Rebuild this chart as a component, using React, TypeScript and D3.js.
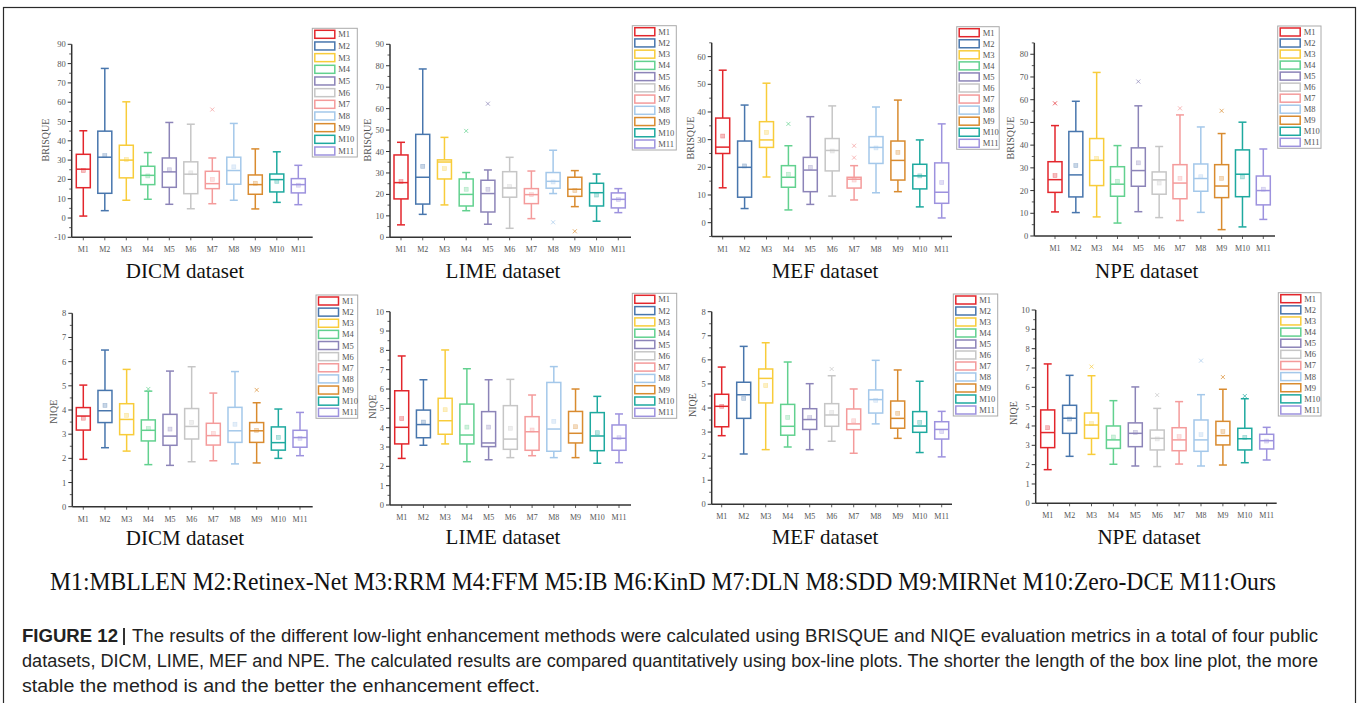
import React from "react";
import * as d3 from "d3";

const methods = ["M1", "M2", "M3", "M4", "M5", "M6", "M7", "M8", "M9", "M10", "M11"];
const methodColors = ["#e3262c", "#4876ad", "#f8cc3a", "#62d18f", "#8c84b8", "#c6c6c6", "#f49b9b", "#a4c8ea", "#d98b2f", "#1ea99f", "#9d92de"];

// each row: [lowWhisker, q1, median, q3, highWhisker, mean]
const dicmBrisque = [
  [1.0, 15.7, 25.3, 33.0, 45.2, 24.6],
  [3.8, 12.8, 31.5, 45.0, 77.5, 32.3],
  [9.2, 20.8, 30.0, 37.7, 60.2, 30.3],
  [9.7, 17.3, 22.1, 26.8, 33.9, 21.8],
  [7.1, 15.9, 23.9, 31.1, 49.5, 25.0],
  [4.8, 12.6, 22.7, 29.1, 48.6, 23.4],
  [7.4, 15.2, 17.8, 24.2, 31.1, 20.0],
  [9.2, 17.5, 24.6, 31.5, 49.0, 26.5],
  [4.7, 12.3, 17.3, 22.3, 35.8, 18.0],
  [8.1, 13.5, 19.9, 22.8, 34.3, 19.0],
  [6.9, 13.0, 17.3, 20.4, 27.3, 17.0],
];
const dicmBrisqueOutliers = [[6, 56.2]];

const limeBrisque = [
  [5.8, 17.9, 25.5, 38.4, 44.3, 26.0],
  [10.7, 15.5, 28.0, 48.0, 78.5, 33.1],
  [15.1, 27.2, 35.1, 36.1, 46.6, 32.0],
  [12.4, 14.6, 20.0, 27.2, 30.2, 22.4],
  [6.1, 11.8, 20.4, 26.6, 31.4, 22.4],
  [4.2, 18.7, 23.0, 30.6, 37.3, 23.6],
  [8.7, 15.7, 19.9, 22.7, 30.9, 19.9],
  [20.4, 22.9, 26.1, 30.2, 40.6, 25.8],
  [14.3, 19.1, 22.4, 28.0, 31.1, 21.8],
  [7.5, 14.6, 20.8, 25.2, 29.5, 19.7],
  [11.5, 13.7, 17.7, 20.7, 22.7, 17.6],
];
const limeBrisqueOutliers = [[3, 49.6], [4, 62.3], [7, 7.0], [8, 2.8]];

const mefBrisque = [
  [12.6, 25.0, 27.3, 37.8, 55.1, 31.3],
  [5.1, 9.2, 20.0, 29.5, 42.5, 20.5],
  [16.5, 27.2, 29.9, 36.5, 50.4, 32.6],
  [4.6, 12.8, 16.4, 20.6, 27.8, 17.5],
  [6.6, 11.2, 19.0, 23.6, 38.3, 20.0],
  [9.6, 18.7, 26.1, 30.4, 42.2, 25.9],
  [8.2, 12.5, 15.7, 16.4, 20.6, 15.4],
  [10.8, 21.4, 27.2, 31.1, 41.8, 27.0],
  [11.2, 15.4, 22.5, 29.5, 44.3, 25.4],
  [5.7, 12.2, 16.9, 21.1, 29.9, 16.9],
  [1.7, 7.0, 11.0, 21.6, 35.7, 14.5],
];
const mefBrisqueOutliers = [[3, 35.7], [6, 27.8], [6, 23.5]];

const npeBrisque = [
  [10.6, 19.2, 24.8, 32.7, 48.6, 26.6],
  [10.3, 17.2, 26.9, 46.0, 59.3, 31.0],
  [8.4, 22.2, 33.3, 42.9, 72.0, 34.1],
  [5.7, 17.5, 22.8, 30.5, 39.8, 24.1],
  [10.7, 21.9, 28.8, 38.8, 57.3, 32.2],
  [8.1, 18.4, 24.7, 28.2, 39.4, 23.3],
  [6.8, 16.4, 23.3, 31.4, 53.3, 25.4],
  [10.4, 19.7, 25.3, 31.7, 48.0, 26.1],
  [2.8, 16.9, 22.0, 31.4, 45.1, 25.4],
  [4.0, 17.3, 27.2, 37.9, 50.1, 26.0],
  [7.3, 13.7, 20.0, 26.4, 38.3, 20.6],
];
const npeBrisqueOutliers = [[0, 58.4], [4, 68.0], [6, 56.2], [8, 55.1]];

const dicmNiqe = [
  [1.96, 3.17, 3.75, 4.10, 5.03, 3.66],
  [2.44, 3.48, 3.97, 4.81, 6.48, 4.19],
  [2.30, 2.98, 3.61, 4.26, 5.68, 3.78],
  [1.74, 2.72, 3.16, 3.59, 4.78, 3.23],
  [1.71, 2.54, 2.92, 3.82, 5.61, 3.21],
  [1.86, 2.80, 3.32, 4.06, 5.79, 3.49],
  [1.90, 2.55, 2.94, 3.45, 4.70, 3.03],
  [1.77, 2.66, 3.14, 4.11, 5.59, 3.41],
  [1.81, 2.66, 3.14, 3.48, 4.30, 3.16],
  [2.00, 2.34, 2.65, 3.30, 4.04, 2.87],
  [2.11, 2.46, 2.86, 3.16, 3.90, 2.83],
];
const dicmNiqeOutliers = [[3, 4.87], [8, 4.83]];

const limeNiqe = [
  [2.41, 3.16, 4.02, 5.91, 7.71, 4.47],
  [3.09, 3.48, 4.16, 4.91, 6.48, 4.29],
  [3.16, 3.66, 4.36, 5.52, 8.02, 4.93],
  [2.24, 3.16, 3.62, 5.22, 7.05, 4.03],
  [2.34, 3.02, 3.21, 4.83, 6.48, 4.03],
  [2.45, 2.88, 3.41, 5.14, 6.50, 3.97],
  [2.55, 2.83, 3.79, 4.57, 5.69, 3.88],
  [2.45, 2.78, 3.93, 6.34, 7.16, 4.33],
  [2.45, 3.21, 3.71, 4.84, 6.00, 4.05],
  [2.16, 2.81, 3.57, 4.78, 5.62, 3.74],
  [2.19, 2.83, 3.45, 4.14, 4.71, 3.48],
];
const limeNiqeOutliers: number[][] = [];

const mefNiqe = [
  [2.85, 3.22, 4.07, 4.57, 5.70, 4.07],
  [2.09, 3.57, 4.55, 5.07, 6.56, 4.40],
  [2.27, 4.21, 5.23, 5.62, 6.71, 4.93],
  [2.38, 2.87, 3.24, 4.15, 5.91, 3.61],
  [2.27, 3.11, 3.52, 3.97, 5.01, 3.60],
  [2.62, 3.24, 3.71, 4.18, 5.34, 3.81],
  [2.12, 3.10, 3.34, 3.96, 4.79, 3.47],
  [3.34, 3.79, 4.35, 4.75, 5.98, 4.32],
  [2.74, 3.16, 3.57, 4.29, 5.58, 3.78],
  [2.15, 2.99, 3.25, 3.85, 5.11, 3.40],
  [1.97, 2.71, 3.11, 3.43, 3.86, 3.02],
];
const mefNiqeOutliers = [[5, 5.62]];

const npeNiqe = [
  [1.74, 2.88, 3.66, 4.83, 7.21, 3.91],
  [2.43, 3.62, 4.40, 5.07, 6.62, 4.36],
  [2.53, 3.36, 4.05, 4.67, 6.60, 4.12],
  [2.02, 2.84, 3.28, 4.00, 5.31, 3.43],
  [1.93, 2.93, 3.62, 4.16, 6.02, 3.67],
  [1.90, 2.76, 3.36, 3.79, 4.91, 3.33],
  [2.03, 2.72, 3.28, 3.91, 5.26, 3.45],
  [1.93, 2.69, 3.28, 4.31, 5.62, 3.55],
  [1.98, 3.02, 3.50, 4.24, 5.90, 3.71],
  [2.10, 2.76, 3.34, 3.88, 5.41, 3.41],
  [2.24, 2.81, 3.24, 3.57, 3.93, 3.22],
];
const npeNiqeOutliers = [[2, 7.07], [5, 5.6], [7, 7.38], [8, 6.53], [9, 5.55]];

const dicmBrisqueTicks = [-10, 0, 10, 20, 30, 40, 50, 60, 70, 80, 90];
const limeBrisqueTicks = [0, 10, 20, 30, 40, 50, 60, 70, 80, 90];
const mefBrisqueTicks = [0, 10, 20, 30, 40, 50, 60];
const npeBrisqueTicks = [0, 10, 20, 30, 40, 50, 60, 70, 80];
const niqe8Ticks = [0, 1, 2, 3, 4, 5, 6, 7, 8];
const niqe10Ticks = [0, 1, 2, 3, 4, 5, 6, 7, 8, 9, 10];

const methodNames = "M1:MBLLEN M2:Retinex-Net M3:RRM M4:FFM M5:IB M6:KinD M7:DLN M8:SDD M9:MIRNet M10:Zero-DCE M11:Ours";
const captionLine1 = "The results of the different low-light enhancement methods were calculated using BRISQUE and NIQE evaluation metrics in a total of four public";
const captionLine2 = "datasets, DICM, LIME, MEF and NPE. The calculated results are compared quantitatively using box-line plots. The shorter the length of the box line plot, the more";
const captionLine3 = "stable the method is and the better the enhancement effect.";

type PanelCfg = {
  title: string; ylabel: string; stats: number[][]; outliers: number[][];
  domain: [number, number]; ticks: number[]; minor: number;
  ax: number; axRight: number; yTop: number; yBottom: number; xFirst: number; xLast: number;
  titleX: number; titleY: number; ylabX: number; ylabY: number;
  lg: { x: number; y: number; w: number; h: number };
};

const panels: PanelCfg[] = [
  { title: "DICM dataset", ylabel: "BRISQUE", stats: dicmBrisque, outliers: dicmBrisqueOutliers, domain: [-10, 90], ticks: dicmBrisqueTicks, minor: 5,
    ax: 71.7, axRight: 312.7, yTop: 44.3, yBottom: 237.3, xFirst: 83.3, xLast: 298.3, titleX: 185, titleY: 277.5, ylabX: 46.7, ylabY: 140,
    lg: { x: 312.3, y: 28.3, w: 45, h: 128.7 } },
  { title: "LIME dataset", ylabel: "BRISQUE", stats: limeBrisque, outliers: limeBrisqueOutliers, domain: [0, 90], ticks: limeBrisqueTicks, minor: 5,
    ax: 390, axRight: 631, yTop: 44.3, yBottom: 237.3, xFirst: 401, xLast: 618.3, titleX: 503, titleY: 277.5, ylabX: 368.3, ylabY: 140,
    lg: { x: 632.3, y: 25.7, w: 44, h: 124.3 } },
  { title: "MEF dataset", ylabel: "BRISQUE", stats: mefBrisque, outliers: mefBrisqueOutliers, domain: [-5, 65], ticks: mefBrisqueTicks, minor: 5,
    ax: 711.7, axRight: 952, yTop: 42.8, yBottom: 236.5, xFirst: 722.7, xLast: 941.7, titleX: 825, titleY: 277.5, ylabX: 691.7, ylabY: 138,
    lg: { x: 956.7, y: 26.7, w: 42.5, h: 122.6 } },
  { title: "NPE dataset", ylabel: "BRISQUE", stats: npeBrisque, outliers: npeBrisqueOutliers, domain: [0, 85], ticks: npeBrisqueTicks, minor: 5,
    ax: 1034.3, axRight: 1275, yTop: 42.9, yBottom: 236, xFirst: 1055, xLast: 1263.3, titleX: 1146.7, titleY: 277.5, ylabX: 1011.7, ylabY: 138,
    lg: { x: 1277.7, y: 26, w: 43.3, h: 122.3 } },
  { title: "DICM dataset", ylabel: "NIQE", stats: dicmNiqe, outliers: dicmNiqeOutliers, domain: [0, 8], ticks: niqe8Ticks, minor: 0.5,
    ax: 72.3, axRight: 312.7, yTop: 313.3, yBottom: 506.7, xFirst: 83.3, xLast: 300, titleX: 185, titleY: 545, ylabX: 55, ylabY: 411.7,
    lg: { x: 316, y: 295, w: 41.7, h: 123.3 } },
  { title: "LIME dataset", ylabel: "NIQE", stats: limeNiqe, outliers: limeNiqeOutliers, domain: [0, 10], ticks: niqe10Ticks, minor: 0.5,
    ax: 390, axRight: 631, yTop: 311.7, yBottom: 505, xFirst: 401.7, xLast: 619, titleX: 503, titleY: 544, ylabX: 373.3, ylabY: 406.7,
    lg: { x: 632.3, y: 293.3, w: 44.4, h: 125 } },
  { title: "MEF dataset", ylabel: "NIQE", stats: mefNiqe, outliers: mefNiqeOutliers, domain: [0, 8], ticks: niqe8Ticks, minor: 0.5,
    ax: 711.7, axRight: 952, yTop: 311.7, yBottom: 504.3, xFirst: 721.7, xLast: 941.7, titleX: 825, titleY: 544, ylabX: 693.3, ylabY: 405,
    lg: { x: 953.3, y: 294, w: 44.4, h: 122 } },
  { title: "NPE dataset", ylabel: "NIQE", stats: npeNiqe, outliers: npeNiqeOutliers, domain: [0, 10], ticks: niqe10Ticks, minor: 0.5,
    ax: 1035.7, axRight: 1276.7, yTop: 310, yBottom: 503.3, xFirst: 1047.7, xLast: 1266.7, titleX: 1149, titleY: 544, ylabX: 1014.3, ylabY: 413,
    lg: { x: 1278.3, y: 292.7, w: 42.7, h: 123.3 } },
];

const tickFont = "'Liberation Serif', 'DejaVu Serif', serif";

function Panel({ p }: { p: PanelCfg }) {
  const y = d3.scaleLinear().domain(p.domain).range([p.yBottom, p.yTop]);
  const x = d3.scalePoint<string>().domain(methods).range([p.xFirst, p.xLast]);
  const boxW = 14;
  const capW = 8;
  const major = p.ticks[1] - p.ticks[0];
  const minorTicks = d3
    .range(Math.ceil(p.domain[0] / p.minor) * p.minor, p.domain[1] + 1e-9, p.minor)
    .filter((v) => Math.abs(v / major - Math.round(v / major)) > 1e-6);
  const pitch = (p.lg.h - 12) / 10;
  return (
    <g>
      <line x1={p.ax} x2={p.ax} y1={p.yBottom} y2={p.yTop} stroke="#333" strokeWidth={1.5} />
      <line x1={p.ax} x2={p.axRight} y1={p.yBottom} y2={p.yBottom} stroke="#333" strokeWidth={1.5} />
      {p.ticks.map((t) => (
        <g key={"t" + t}>
          <line x1={p.ax - 4} x2={p.ax} y1={y(t)} y2={y(t)} stroke="#333" strokeWidth={1} />
          <text x={p.ax - 6} y={y(t) + 3} fontSize={8.5} fontFamily={tickFont} fill="#555" textAnchor="end">{t}</text>
        </g>
      ))}
      {minorTicks.map((t) => (
        <line key={"m" + t} x1={p.ax - 2.5} x2={p.ax} y1={y(t)} y2={y(t)} stroke="#333" strokeWidth={0.8} />
      ))}
      {methods.map((m) => (
        <g key={"x" + m}>
          <line x1={x(m)} x2={x(m)} y1={p.yBottom} y2={p.yBottom + 3} stroke="#333" strokeWidth={0.8} />
          <text x={x(m)} y={p.yBottom + 15} fontSize={8} fontFamily={tickFont} fill="#555" textAnchor="middle">{m}</text>
        </g>
      ))}
      <text transform={`translate(${p.ylabX},${p.ylabY}) rotate(-90)`} fontSize={10} fontFamily={tickFont} fill="#555" textAnchor="middle" dominantBaseline="middle">{p.ylabel}</text>
      {p.stats.map((s, i) => {
        const cx = x(methods[i]) as number;
        const c = methodColors[i];
        const [lo, q1, md, q3, hi, mean] = s;
        return (
          <g key={"b" + i} stroke={c} strokeWidth={1.5} fill="none">
            <line x1={cx} x2={cx} y1={y(hi)} y2={y(q3)} />
            <line x1={cx} x2={cx} y1={y(q1)} y2={y(lo)} />
            <line x1={cx - capW / 2} x2={cx + capW / 2} y1={y(hi)} y2={y(hi)} />
            <line x1={cx - capW / 2} x2={cx + capW / 2} y1={y(lo)} y2={y(lo)} />
            <rect x={cx - boxW / 2} y={y(q3)} width={boxW} height={y(q1) - y(q3)} fill="#fff" />
            <line x1={cx - boxW / 2} x2={cx + boxW / 2} y1={y(md)} y2={y(md)} />
            <rect x={cx - 2} y={y(mean) - 2} width={4} height={4} fill={c} fillOpacity={0.3} stroke={c} strokeOpacity={0.4} strokeWidth={0.6} />
          </g>
        );
      })}
      {p.outliers.map((o, k) => {
        const cx = x(methods[o[0]]) as number;
        const cy = y(o[1]);
        const c = methodColors[o[0]];
        return (
          <path key={"o" + k} d={`M${cx - 2},${cy - 2}L${cx + 2},${cy + 2}M${cx - 2},${cy + 2}L${cx + 2},${cy - 2}`} stroke={c} strokeOpacity={0.7} strokeWidth={1} fill="none" />
        );
      })}
      <rect x={p.lg.x} y={p.lg.y} width={p.lg.w} height={p.lg.h} fill="#fff" stroke="#aaa" strokeWidth={1} />
      {methods.map((m, i) => {
        const cy = p.lg.y + 6 + i * pitch;
        return (
          <g key={"l" + m}>
            <rect x={p.lg.x + 2.5} y={cy - 4} width={20} height={8} fill="#fff" stroke={methodColors[i]} strokeWidth={1.5} />
            <text x={p.lg.x + 26} y={cy + 3} fontSize={8.5} fontFamily={tickFont} fill="#555">{m}</text>
          </g>
        );
      })}
      <text x={p.titleX} y={p.titleY} fontSize={21} fontFamily="'Liberation Serif', 'Times New Roman', serif" fill="#111" textAnchor="middle">{p.title}</text>
    </g>
  );
}

export default function App() {
  const capFont = "'Liberation Sans', Arial, sans-serif";
  return (
    <div style={{ position: "absolute", left: 0, top: 0, width: 1362, height: 703, background: "#fff" }}>
      <svg width={1362} height={703} style={{ display: "block" }}>
        <rect x={0} y={0} width={1362} height={703} fill="#fff" />
        <rect x={3.5} y={7.5} width={1352} height={720} fill="none" stroke="#2a2a2a" strokeWidth={1.2} />
        {panels.map((p, i) => (
          <Panel key={i} p={p} />
        ))}
        <text x={50} y={590} fontSize={24.5} fontFamily="'Liberation Serif', 'Times New Roman', serif" fill="#111" textLength={1226} lengthAdjust="spacingAndGlyphs">{methodNames}</text>
        <text x={22} y={641.5} fontSize={17.5} fontFamily={capFont} fontWeight="bold" fill="#222" textLength={96} lengthAdjust="spacingAndGlyphs">FIGURE 12</text>
        <line x1={124} x2={124} y1={628} y2={645} stroke="#333" strokeWidth={2} />
        <text x={132} y={641.5} fontSize={17.5} fontFamily={capFont} fill="#222" textLength={1186} lengthAdjust="spacingAndGlyphs">{captionLine1}</text>
        <text x={22} y={666.5} fontSize={17.5} fontFamily={capFont} fill="#222" textLength={1296} lengthAdjust="spacingAndGlyphs">{captionLine2}</text>
        <text x={22} y={691.5} fontSize={17.5} fontFamily={capFont} fill="#222" textLength={518} lengthAdjust="spacingAndGlyphs">{captionLine3}</text>
      </svg>
    </div>
  );
}
